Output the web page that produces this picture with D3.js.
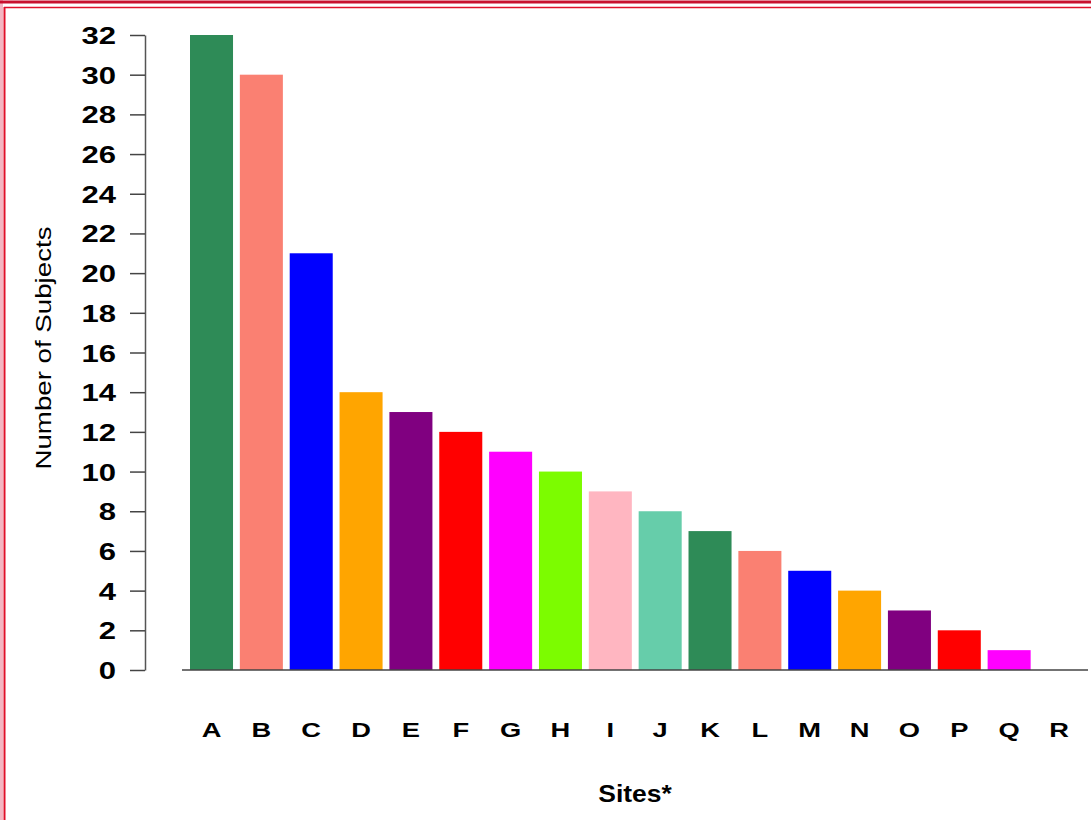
<!DOCTYPE html>
<html><head><meta charset="utf-8">
<script src="https://cdn.jsdelivr.net/npm/d3@7"></script>
<style>html,body{margin:0;padding:0;background:#fff;}svg{display:block;}</style>
</head><body>
<svg id="c" width="1091" height="820"></svg>
<script>
const sites = ["A","B","C","D","E","F","G","H","I","J","K","L","M","N","O","P","Q","R"];
const subjects = [32,30,21,14,13,12,11,10,9,8,7,6,5,4,3,2,1,0];
const barColors = ["#2E8B57","#FA8072","#0000FF","#FFA500","#800080","#FF0000","#FF00FF","#7CFC00","#FFB6C1","#66CDAA",
                   "#2E8B57","#FA8072","#0000FF","#FFA500","#800080","#FF0000","#FF00FF","#7CFC00"];
const yTicks = d3.range(0, 33, 2);
const yTitle = "Number of Subjects";
const xTitle = "Sites*";

const svg = d3.select("#c");
const font = "'Liberation Sans', Arial, sans-serif";

// border
svg.append("rect").attr("x",0).attr("y",0).attr("width",3).attr("height",820).attr("fill","#f4b6c2");
svg.append("line").attr("x1",0).attr("x2",1091).attr("y1",2).attr("y2",2).attr("stroke","#c8102e").attr("stroke-width",3);
svg.append("line").attr("x1",4).attr("x2",1091).attr("y1",7.5).attr("y2",7.5).attr("stroke","#e0102a").attr("stroke-width",1.5);
svg.append("line").attr("x1",4.5).attr("x2",4.5).attr("y1",7).attr("y2",820).attr("stroke","#e0102a").attr("stroke-width",2);

const x = d3.scaleBand().domain(sites).range([190, 1080.5]).paddingInner(0.137).paddingOuter(0);
const y = d3.scaleLinear().domain([0, 32]).range([670, 35]);

// bars
svg.append("g").selectAll("rect").data(sites.map((s,i)=>({s, v:subjects[i], c:barColors[i]})))
  .join("rect")
  .attr("x", d => x(d.s)).attr("width", x.bandwidth())
  .attr("y", d => y(d.v)).attr("height", d => y(0) - y(d.v))
  .attr("fill", d => d.c);

// x baseline
svg.append("line").attr("x1",182).attr("x2",1088).attr("y1",y(0)).attr("y2",y(0))
  .attr("stroke","#444").attr("stroke-width",1.5);

// y axis
const yAxis = d3.axisLeft(y).tickValues(yTicks).tickSize(15).tickSizeOuter(0).tickFormat("");
const ya = svg.append("g").attr("transform","translate(145,0)").call(yAxis);
ya.select(".domain").attr("stroke","#555").attr("stroke-width",1.5);
ya.selectAll(".tick line").attr("stroke","#444").attr("stroke-width",1.5);

// y tick labels (stretched horizontally)
svg.append("g").selectAll("text").data(yTicks).join("text")
  .attr("transform", d => `translate(116,${y(d)+9}) scale(1.35,1)`)
  .attr("text-anchor","end")
  .attr("font-family",font).attr("font-weight","bold").attr("font-size",23)
  .attr("fill","#000").text(d => d);

// x labels
svg.append("g").selectAll("text").data(sites).join("text")
  .attr("transform", d => `translate(${x(d)+x.bandwidth()/2},737) scale(1.3,1)`)
  .attr("text-anchor","middle")
  .attr("font-family",font).attr("font-weight","bold").attr("font-size",21)
  .attr("fill","#000").text(d => d);

// titles
svg.append("text").attr("transform","translate(635,802) scale(1.15,1)")
  .attr("text-anchor","middle").attr("font-family",font).attr("font-weight","bold").attr("font-size",23)
  .attr("fill","#000").text(xTitle);

svg.append("text").attr("transform","translate(51,348) rotate(-90)")
  .attr("text-anchor","middle").attr("font-family",font).attr("font-size",22)
  .attr("textLength",243).attr("lengthAdjust","spacingAndGlyphs")
  .attr("fill","#000").text(yTitle);
</script>
</body></html>
